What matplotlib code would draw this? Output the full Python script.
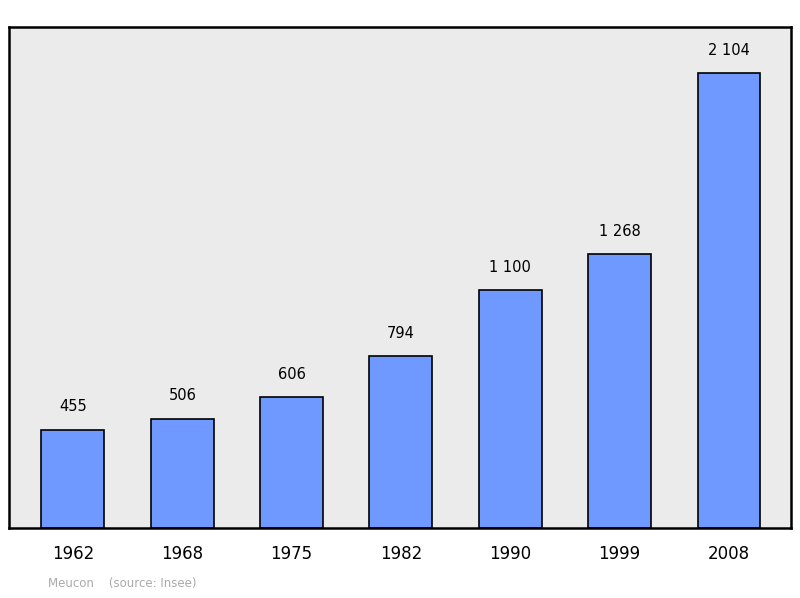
import matplotlib.pyplot as plt

years = ["1962", "1968", "1975", "1982", "1990", "1999", "2008"]
population = [455, 506, 606, 794, 1100, 1268, 2104]
value_labels = ["455", "506", "606", "794", "1 100", "1 268", "2 104"]

fig = plt.figure(figsize=(8, 5.98), dpi=100)
ax = fig.add_axes([9 / 800, 1 - 528 / 598, 782 / 800, 501 / 598])
ax.set_facecolor("#ebebeb")

x = range(len(years))
ax.bar(x, population, width=0.576, color="#7099ff", edgecolor="black", linewidth=1.2)
for xi, v, lab in zip(x, population, value_labels):
    ax.text(xi, v + 70, lab, ha="center", va="bottom", fontsize=10.5)

ax.set_xlim(-0.585, 6.567)
ax.set_ylim(0, 2316)
ax.set_xticks(list(x))
ax.set_xticklabels(years, fontsize=12)
ax.tick_params(axis="x", length=0, pad=12)
ax.set_yticks([])
for s in ax.spines.values():
    s.set_linewidth(1.8)

fig.text(48 / 800, 1 - 584 / 598, "Meucon    (source: Insee)", color="#aaaaaa",
         fontsize=8.5, va="center")

fig.savefig("out.png", dpi=100)
